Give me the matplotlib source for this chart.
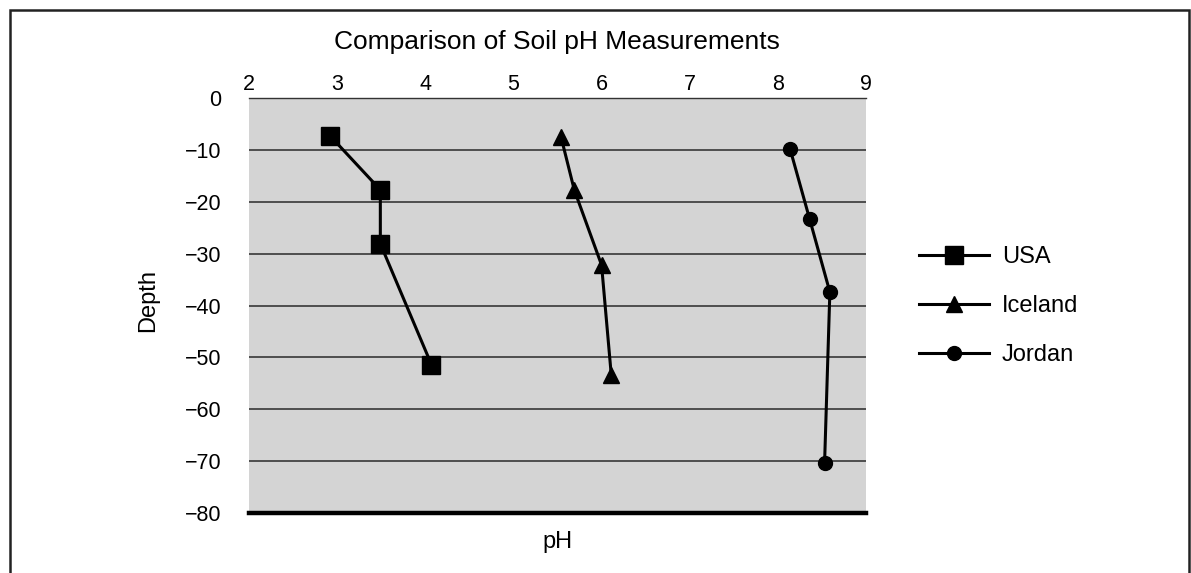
import matplotlib.pyplot as plt
from matplotlib.patches import Rectangle

plt.rcParams['font.family'] = ['Liberation Sans', 'DejaVu Sans']

# data (pH, depth)
usa_ph = [2.92, 3.49, 3.49, 4.07]
usa_depth = [-7.3, -17.7, -28.1, -51.4]
iceland_ph = [5.54, 5.69, 6.0, 6.11]
iceland_depth = [-7.5, -17.7, -32.2, -53.4]
jordan_ph = [8.14, 8.36, 8.59, 8.53]
jordan_depth = [-9.9, -23.3, -37.4, -70.4]

x_ticks = [2, 3, 4, 5, 6, 7, 8, 9]
y_ticks = [0, -10, -20, -30, -40, -50, -60, -70, -80]

W, H = 1191, 573
fig = plt.figure(figsize=(W / 100, H / 100), dpi=100)

# outer frame
fig.patches.append(Rectangle((10 / W, -0.05), 1179 / W, 1.05 - 10 / H,
                             transform=fig.transFigure, fill=False,
                             edgecolor='#222222', linewidth=1.8))

ax = fig.add_axes([249 / W, 60 / H, 617 / W, 415 / H])
ax.set_facecolor('#d4d4d4')

ax.plot(usa_ph, usa_depth, color='black', lw=2.2, marker='s', ms=13, label='USA')
ax.plot(iceland_ph, iceland_depth, color='black', lw=2.2, marker='^', ms=12, label='Iceland')
ax.plot(jordan_ph, jordan_depth, color='black', lw=2.2, marker='o', ms=10, label='Jordan')

ax.set_xlim(2, 9)
ax.set_ylim(-80, 0)
ax.set_xticks(x_ticks)
ax.set_yticks(y_ticks)
ax.xaxis.tick_top()
ax.tick_params(axis='x', length=0, pad=2, labelsize=15.5)
ax.tick_params(axis='y', length=0, pad=20, labelsize=15.5)
for y in y_ticks[1:-1]:
    ax.axhline(y, color='#2a2a2a', lw=1.1, zorder=1)

for s in ['left', 'right']:
    ax.spines[s].set_visible(False)
ax.spines['top'].set_linewidth(1.0)
ax.spines['top'].set_color('#333333')
ax.spines['bottom'].set_linewidth(3.2)
ax.spines['bottom'].set_color('black')

fig.text(557 / W, 1 - 42 / H, 'Comparison of Soil pH Measurements',
         ha='center', va='center', fontsize=19)
fig.text(557 / W, 1 - 542 / H, 'pH', ha='center', va='center', fontsize=17)
fig.text(148 / W, 1 - 300 / H, 'Depth', ha='center', va='center',
         rotation=90, fontsize=17)

fig.legend(loc='center left', bbox_to_anchor=(919 / W, 1 - 306 / H),
           frameon=False, fontsize=17, handlelength=2.95, labelspacing=1.15,
           handletextpad=0.55, borderpad=0, borderaxespad=0)

fig.savefig('out.png', dpi=100)
